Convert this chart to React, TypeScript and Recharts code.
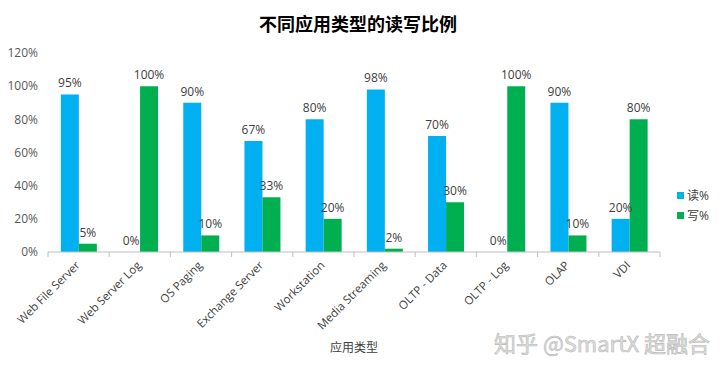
import React from "react";
import {
  BarChart,
  Bar,
  XAxis,
  YAxis,
  LabelList,
  Label,
} from "recharts";

// ---------------------- DATA ----------------------
const categories = [
  "Web File Server",
  "Web Server Log",
  "OS Paging",
  "Exchange Server",
  "Workstation",
  "Media Streaming",
  "OLTP - Data",
  "OLTP - Log",
  "OLAP",
  "VDI",
];
const readPct = [95, 0, 90, 67, 80, 98, 70, 0, 90, 20];
const writePct = [5, 100, 10, 33, 20, 2, 30, 100, 10, 80];
const yTicks = [0, 20, 40, 60, 80, 100, 120];

const data = categories.map((name, i) => ({
  name,
  read: readPct[i],
  write: writePct[i],
}));

const series = [
  { key: "read", name: "读%", color: "#00B0F0" },
  { key: "write", name: "写%", color: "#00B050" },
];

const FONT = "'Open Sans', 'Noto Sans CJK SC', sans-serif";

const PLOT_LEFT = 48;
const PLOT_RIGHT = 660;
const BAND = (PLOT_RIGHT - PLOT_LEFT) / categories.length;

// Excel style: tick marks sit between categories, labels rotated -45
const CategoryTick = (props: any) => {
  const { x, y, payload, index } = props;
  const left = x - BAND / 2;
  return (
    <g>
      <line x1={left} y1={y - 8} x2={left} y2={y - 3} stroke="#bfbfbf" />
      {index === categories.length - 1 && (
        <line x1={x + BAND / 2} y1={y - 8} x2={x + BAND / 2} y2={y - 3} stroke="#bfbfbf" />
      )}
      <text
        x={x + 2}
        y={y + 6}
        textAnchor="end"
        fontSize={11.5}
        fill="#404040"
        fontFamily={FONT}
        transform={`rotate(-45 ${x + 2} ${y + 6})`}
      >
        {payload.value}
      </text>
    </g>
  );
};

export default function App() {
  return (
    <div style={{ position: "absolute", left: 0, top: 0, width: 720, height: 370, background: "#fff", fontFamily: FONT }}>
      <div
        style={{
          position: "absolute",
          top: 10,
          left: 0,
          width: 716,
          textAlign: "center",
          fontSize: 18,
          fontWeight: 700,
          color: "#000",
          fontFamily: "'Noto Sans CJK SC', sans-serif",
        }}
      >
        不同应用类型的读写比例
      </div>
      <BarChart
        width={720}
        height={370}
        data={data}
        margin={{ top: 53, right: 60, bottom: 18, left: 0 }}
        barCategoryGap="21%"
        barGap={0}
      >
        <XAxis
          dataKey="name"
          interval={0}
          height={100}
          axisLine={{ stroke: "#bfbfbf" }}
          tickLine={false}
          tick={<CategoryTick />}
        >
          <Label
            value="应用类型"
            position="insideBottom"
            offset={0}
            fontSize={12}
            fill="#404040"
            fontFamily={FONT}
          />
        </XAxis>
        <YAxis
          width={48}
          domain={[0, 120]}
          ticks={yTicks}
          axisLine={false}
          tickLine={false}
          tickMargin={4}
          tickFormatter={(v: number) => `${v}%`}
          tick={{ fontSize: 12, fill: "#595959", fontFamily: FONT }}
        />
        {series.map((s) => (
          <Bar key={s.key} dataKey={s.key} name={s.name} fill={s.color} minPointSize={0.01} isAnimationActive={false}>
            <LabelList
              dataKey={s.key}
              position="top"
              offset={7}
              fontSize={12}
              fill="#404040"
              fontFamily={FONT}
              formatter={(v: any) => `${v}%`}
            />
          </Bar>
        ))}
      </BarChart>
      <div style={{ position: "absolute", left: 677, top: 185, fontSize: 12, color: "#404040" }}>
        {series.map((s) => (
          <div key={s.key} style={{ display: "flex", alignItems: "center", height: 20 }}>
            <span style={{ display: "inline-block", width: 7, height: 7, background: s.color, marginRight: 3 }} />
            <span>{s.name}</span>
          </div>
        ))}
      </div>
      <div
        style={{
          position: "absolute",
          left: 494,
          top: 326,
          fontSize: 22,
          color: "#e0e0e0",
          WebkitTextStroke: "0.6px #b8b8b8",
          fontFamily: "'Noto Sans CJK SC', sans-serif",
          whiteSpace: "nowrap",
        }}
      >
        知乎 @SmartX 超融合
      </div>
    </div>
  );
}
